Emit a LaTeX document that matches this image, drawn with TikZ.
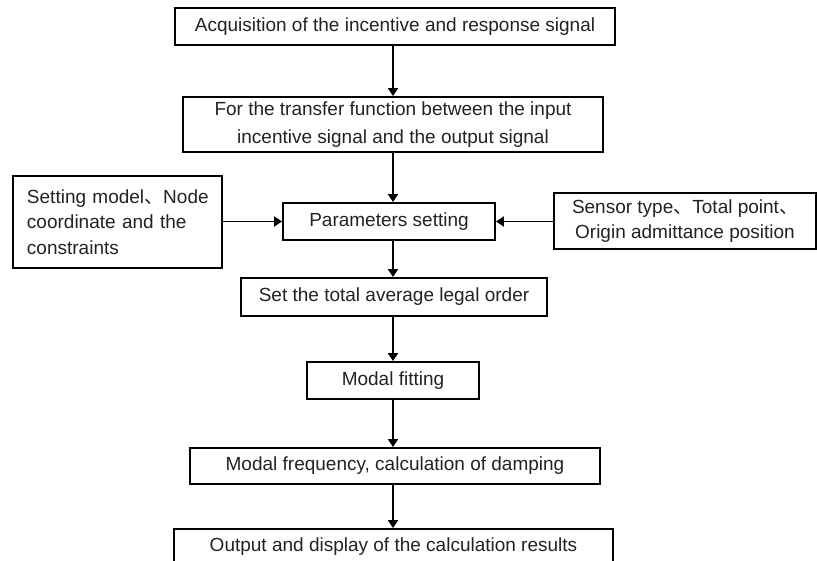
\documentclass[tikz,border=0pt]{standalone}
\usepackage{fontspec}
\setmainfont{Liberation Sans}
\newfontfamily\cjk{Noto Sans CJK SC}
\usetikzlibrary{arrows.meta}
\definecolor{txt}{HTML}{222222}
\tikzset{
  box/.style={draw=black, line width=1.9pt, inner sep=0pt, align=center,
    text=txt, font=\fontsize{19}{28}\selectfont},
  arr/.style={line width=1.8pt, -{Triangle[length=8pt,width=10pt]}}
}
\begin{document}
\begin{tikzpicture}[x=1pt,y=-1pt]
\useasboundingbox (0,0) rectangle (817,561);
\clip (0,0) rectangle (817,561);
\node[box, minimum width=440pt, minimum height=37pt] (b1) at (395,26.5) {Acquisition of the incentive and response signal};
\node[box, minimum width=420pt, minimum height=55pt] (b2) at (393,124.5) {For the transfer function between the input\\incentive signal and the output signal};
\node[box, minimum width=212pt, minimum height=37pt] (p) at (389,221.5) {Parameters setting};
\node[box, minimum width=209pt, minimum height=92pt, text width=181pt, align=left, font=\fontsize{19}{25.5}\selectfont] (l) at (117.5,222) {\mbox{Setting model{\cjk 、}Node}\\\mbox{coordinate and the}\\\mbox{constraints}};
\node[box, minimum width=262pt, minimum height=56pt, font=\fontsize{19}{25}\selectfont] (r) at (685,221) {Sensor type{\cjk 、}Total point{\cjk 、}\\Origin admittance position};
\node[box, minimum width=306pt, minimum height=38pt] (b4) at (394,297) {Set the total average legal order};
\node[box, minimum width=172pt, minimum height=37pt] (b5) at (393,380.5) {Modal fitting};
\node[box, minimum width=410pt, minimum height=36pt] (b6) at (395,466) {Modal frequency, calculation of damping};
\node[box, minimum width=439pt, minimum height=36pt] (b7) at (393.5,547) {Output and display of the calculation results};
\draw[arr] (b1.south -| 393,0) -- (b2.north -| 393,0);
\draw[arr] (b2.south -| 393,0) -- (p.north -| 393,0);
\draw[arr] (p.south -| 393,0) -- (b4.north -| 393,0);
\draw[arr] (b4.south -| 393,0) -- (b5.north -| 393,0);
\draw[arr] (b5.south -| 393,0) -- (b6.north -| 393,0);
\draw[arr] (b6.south -| 393,0) -- (b7.north -| 393,0);
\draw[arr] (l.east |- p.west) -- (p.west);
\draw[arr] (r.west |- p.east) -- (p.east);
\end{tikzpicture}
\end{document}
